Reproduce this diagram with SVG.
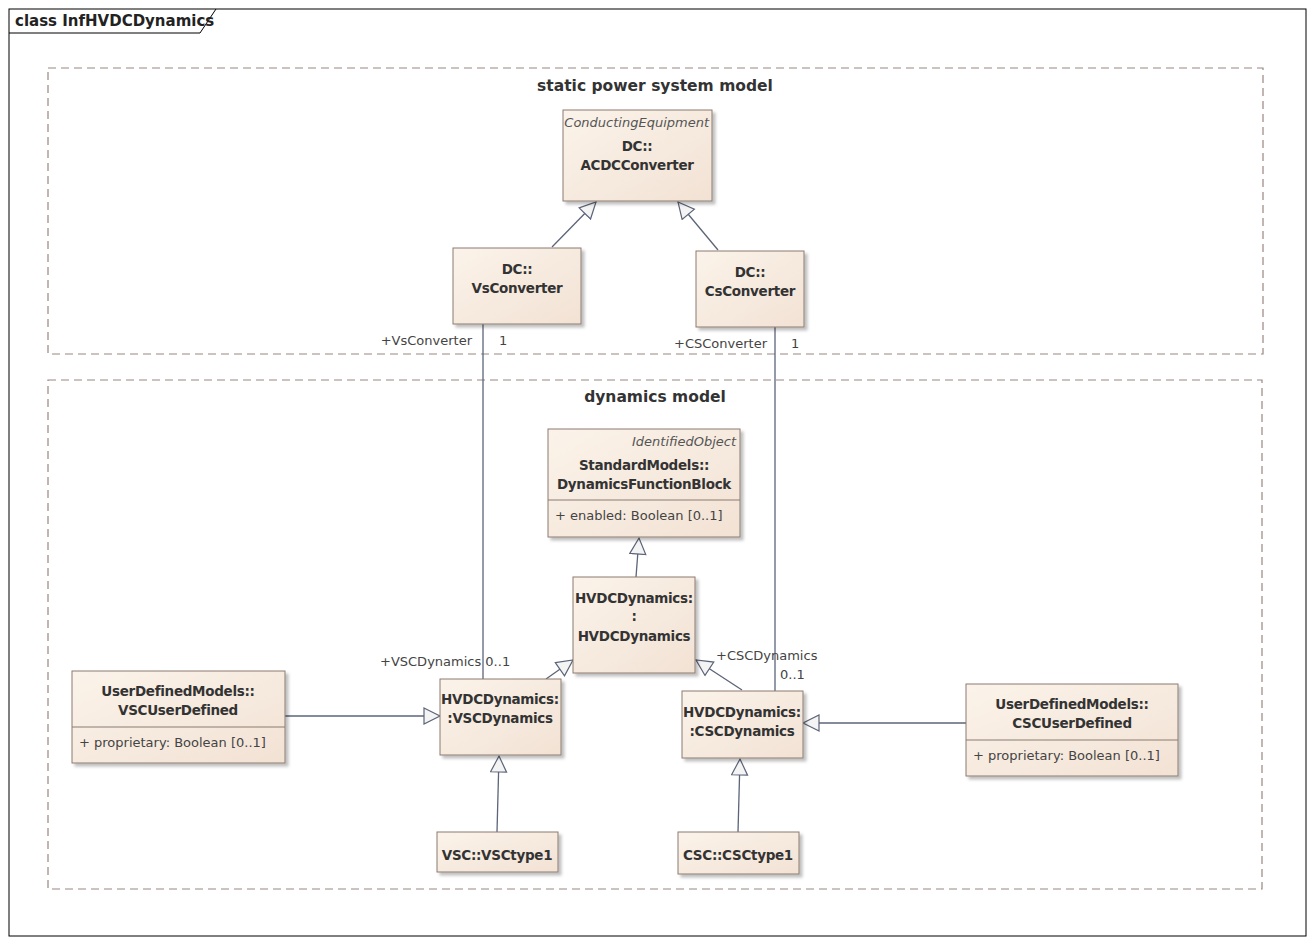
<svg xmlns="http://www.w3.org/2000/svg" width="1315" height="944" viewBox="0 0 1315 944">
<style>
text{font-family:"DejaVu Sans","Liberation Sans",sans-serif;fill:#333;}
.n{font-size:13.5px;font-weight:bold;text-anchor:middle;letter-spacing:-0.3px}
.i{font-size:13px;font-style:italic;text-anchor:end;fill:#555}
.a{font-size:13px;fill:#444}
.l{font-size:13px;fill:#444}
.pk{font-size:15.5px;font-weight:bold;text-anchor:middle}
.box{fill:url(#g);stroke:#8c7a70;stroke-width:1;filter:url(#sh)}
.sep{stroke:#8c7a70}
.c{stroke:#5b6478;stroke-width:1.3;fill:none}
.gen{marker-end:url(#tri)}
.pkg{fill:none;stroke:#9a8580;stroke-dasharray:8,5;stroke-width:1.2}
</style>
<defs>
<linearGradient id="g" x1="0" y1="0" x2="1" y2="1"><stop offset="0" stop-color="#fbf3ea"/><stop offset="1" stop-color="#f2e2d4"/></linearGradient>
<filter id="sh" x="-10%" y="-10%" width="130%" height="130%"><feDropShadow dx="3" dy="3" stdDeviation="1.5" flood-color="#000" flood-opacity="0.25"/></filter>
<marker id="tri" markerUnits="userSpaceOnUse" markerWidth="20" markerHeight="20" refX="17" refY="9" orient="auto"><path d="M1,1 L17,9 L1,17 Z" fill="#f4f4f4" stroke="#5b6478" stroke-width="1.2"/></marker>
</defs>
<rect width="1315" height="944" fill="#fff"/>
<rect x="9" y="9" width="1297" height="927" fill="none" stroke="#000"/>
<path d="M9,33 H200 L216,9" fill="none" stroke="#000"/>
<text x="15" y="26" style="font-size:15px;font-weight:bold;fill:#222">class InfHVDCDynamics</text>
<g id="pkg-static"><rect class="pkg" x="48" y="68" width="1215" height="286"/><text class="pk" x="655" y="91">static power system model</text></g>
<g id="pkg-dyn"><rect class="pkg" x="48" y="380" width="1214" height="509"/><text class="pk" x="655" y="402">dynamics model</text></g>
<g id="connectors">
<line class="c gen" x1="552" y1="247" x2="596" y2="202"/>
<line class="c gen" x1="718" y1="250" x2="678" y2="202"/>
<line class="c" x1="483" y1="324" x2="483" y2="679"/>
<line class="c" x1="775" y1="327" x2="775" y2="691"/>
<line class="c gen" x1="636" y1="577" x2="639" y2="538"/>
<line class="c gen" x1="546" y1="679" x2="573" y2="660"/>
<line class="c gen" x1="742" y1="690" x2="696" y2="660"/>
<line class="c gen" x1="285" y1="716" x2="440" y2="716"/>
<line class="c gen" x1="966" y1="723" x2="803" y2="723"/>
<line class="c gen" x1="497" y1="832" x2="499" y2="756"/>
<line class="c gen" x1="738" y1="832" x2="740" y2="759"/>
<text class="l" x="472" y="345" text-anchor="end">+VsConverter</text>
<text class="l" x="499" y="345">1</text>
<text class="l" x="767" y="348" text-anchor="end">+CSConverter</text>
<text class="l" x="791" y="348">1</text>
<text class="l" x="380" y="666">+VSCDynamics 0..1</text>
<text class="l" x="716" y="660">+CSCDynamics</text>
<text class="l" x="780" y="679">0..1</text>
</g>
<g id="ACDCConverter"><rect class="box" x="563" y="110" width="149" height="91"/><text class="i" x="709" y="127">ConductingEquipment</text><text class="n" x="637" y="151">DC::</text><text class="n" x="637" y="170">ACDCConverter</text></g>
<g id="VsConverter"><rect class="box" x="453" y="248" width="128" height="76"/><text class="n" x="517" y="274">DC::</text><text class="n" x="517" y="293">VsConverter</text></g>
<g id="CsConverter"><rect class="box" x="696" y="251" width="108" height="76"/><text class="n" x="750" y="277">DC::</text><text class="n" x="750" y="296">CsConverter</text></g>
<g id="DynamicsFunctionBlock"><rect class="box" x="548" y="429" width="192" height="108"/><line class="sep" x1="548" y1="500" x2="740" y2="500"/><text class="i" x="736" y="446">IdentifiedObject</text><text class="n" x="644" y="470">StandardModels::</text><text class="n" x="644" y="489">DynamicsFunctionBlock</text><text class="a" x="555" y="520">+    enabled: Boolean [0..1]</text></g>
<g id="HVDCDynamics"><rect class="box" x="573" y="577" width="122" height="96"/><text class="n" x="634" y="603">HVDCDynamics:</text><text class="n" x="634" y="621">:</text><text class="n" x="634" y="641">HVDCDynamics</text></g>
<g id="VSCDynamics"><rect class="box" x="440" y="679" width="121" height="76"/><text class="n" x="500" y="704">HVDCDynamics:</text><text class="n" x="500" y="723">:VSCDynamics</text></g>
<g id="CSCDynamics"><rect class="box" x="682" y="691" width="121" height="67"/><text class="n" x="742" y="717">HVDCDynamics:</text><text class="n" x="742" y="736">:CSCDynamics</text></g>
<g id="VSCUserDefined"><rect class="box" x="72" y="671" width="213" height="92"/><line class="sep" x1="72" y1="727" x2="285" y2="727"/><text class="n" x="178" y="696">UserDefinedModels::</text><text class="n" x="178" y="715">VSCUserDefined</text><text class="a" x="79" y="747">+    proprietary: Boolean [0..1]</text></g>
<g id="CSCUserDefined"><rect class="box" x="966" y="684" width="212" height="92"/><line class="sep" x1="966" y1="740" x2="1178" y2="740"/><text class="n" x="1072" y="709">UserDefinedModels::</text><text class="n" x="1072" y="728">CSCUserDefined</text><text class="a" x="973" y="760">+    proprietary: Boolean [0..1]</text></g>
<g id="VSCtype1"><rect class="box" x="437" y="832" width="121" height="40"/><text class="n" x="497" y="860">VSC::VSCtype1</text></g>
<g id="CSCtype1"><rect class="box" x="678" y="832" width="121" height="42"/><text class="n" x="738" y="860">CSC::CSCtype1</text></g>
</svg>
